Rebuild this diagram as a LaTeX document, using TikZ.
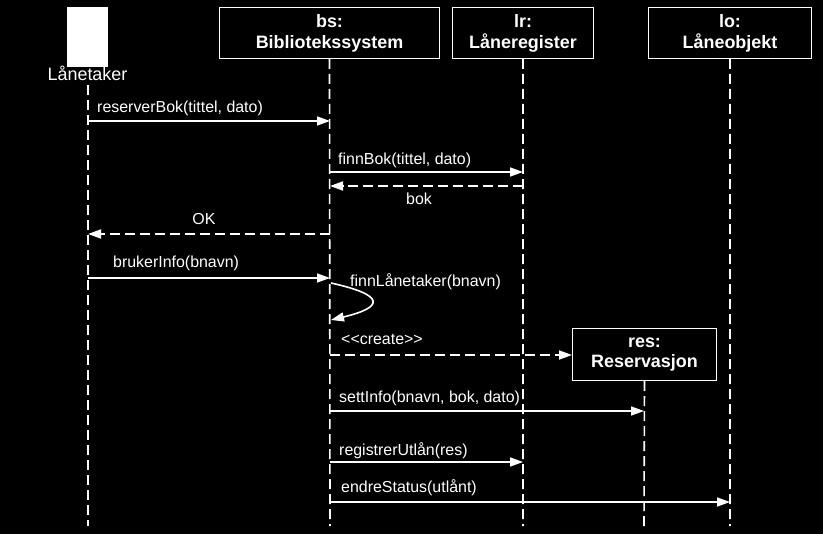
\documentclass[tikz,border=0pt]{standalone}
\usepackage{fontspec}
\setmainfont{Liberation Sans}
\usetikzlibrary{arrows.meta}
\begin{document}
\begin{tikzpicture}[x=1bp,y=-1bp,
  every node/.style={text=white, inner sep=0pt},
  objbox/.style={draw=white, line width=1bp, fill=black, font=\fontsize{18}{21}\selectfont\bfseries, align=center, anchor=north west, minimum height=51bp},
  lifeline/.style={draw=white, line width=1.6bp, dash pattern=on 10bp off 5bp},
  msg/.style={draw=white, line width=1.6bp, -{Triangle[length=13bp,width=9bp]}},
  ret/.style={draw=white, line width=1.8bp, dash pattern=on 10bp off 5bp, -{Triangle[length=13bp,width=9bp]}},
  lbl/.style={font=\fontsize{16}{19}\selectfont}
]
\useasboundingbox (0,0) rectangle (823,534);
\fill[black] (0,0) rectangle (823,534);

% actor
\node[fill=white, minimum width=41bp, minimum height=60bp, anchor=north west] (actor) at (67,7) {};
\node[font=\fontsize{18}{21}\selectfont] (actorlbl) at (87.5,73) {Lånetaker};

% object boxes
\node[objbox, minimum width=220bp] (bs) at (219,7) {bs:\\Bibliotekssystem};
\node[objbox, minimum width=141bp] (lr) at (452,7) {lr:\\Låneregister};
\node[objbox, minimum width=163bp] (lo) at (648,7) {lo:\\Låneobjekt};

% lifeline ends
\coordinate (aTop) at (88,85);
\coordinate (aEnd) at (88,526);
\coordinate (bsEnd) at (330,526);
\coordinate (lrEnd) at (523,526);
\coordinate (loEnd) at (730,526);
\coordinate (resEnd) at (644,526);

\draw[lifeline] (aTop) -- (aEnd);
\draw[lifeline] (bs.south) -- (bsEnd);
\draw[lifeline] (lr.south) -- (lrEnd);
\draw[lifeline] (lo.south) -- (loEnd);

% res object (created)
\node[objbox, minimum width=144bp, minimum height=52bp] (res) at (572,328) {res:\\Reservasjon};
\draw[lifeline] (res.south) -- (resEnd);

% message points
\coordinate (a1) at (88,121);   \coordinate (b1) at (330,121);
\coordinate (b2) at (330,172);  \coordinate (l2) at (523,172);
\coordinate (l3) at (523,186);  \coordinate (b3) at (330,186);
\coordinate (b4) at (330,234);  \coordinate (a4) at (88,234);
\coordinate (a5) at (88,278);   \coordinate (b5) at (330,278);
\coordinate (b6s) at (331,283); \coordinate (b6e) at (331,320);
\coordinate (b7) at (330,355);
\coordinate (b8) at (330,411);  \coordinate (r8) at (644,411);
\coordinate (b9) at (330,462);  \coordinate (l9) at (523,462);
\coordinate (b10) at (330,502); \coordinate (o10) at (730,502);

\draw[msg] (a1) -- (b1);
\node[lbl, anchor=west] (t1) at (97,108) {reserverBok(tittel, dato)};

\draw[msg] (b2) -- (l2);
\node[lbl, anchor=west] (t2) at (338,160) {finnBok(tittel, dato)};

\draw[ret] (l3) -- (b3);
\node[lbl] (t3) at (419,199) {bok};

\draw[ret] (b4) -- (a4);
\node[lbl] (t4) at (204,219) {OK};

\draw[msg] (a5) -- (b5);
\node[lbl, anchor=west] (t5) at (113,263) {brukerInfo(bnavn)};

\draw[msg] (b6s) .. controls (385,295) and (385,307) .. (b6e);
\node[lbl, anchor=west] (t6) at (350,282) {finnLånetaker(bnavn)};

\draw[ret] (b7) -- (res.west |- b7);
\node[lbl, anchor=west] (t7) at (341,339) {<{}<create>{}>};

\draw[msg] (b8) -- (r8);
\node[lbl, anchor=west] (t8) at (339,398) {settInfo(bnavn, bok, dato)};

\draw[msg] (b9) -- (l9);
\node[lbl, anchor=west] (t9) at (339,451) {registrerUtlån(res)};

\draw[msg] (b10) -- (o10);
\node[lbl, anchor=west] (t10) at (341,488) {endreStatus(utlånt)};
\end{tikzpicture}
\end{document}
